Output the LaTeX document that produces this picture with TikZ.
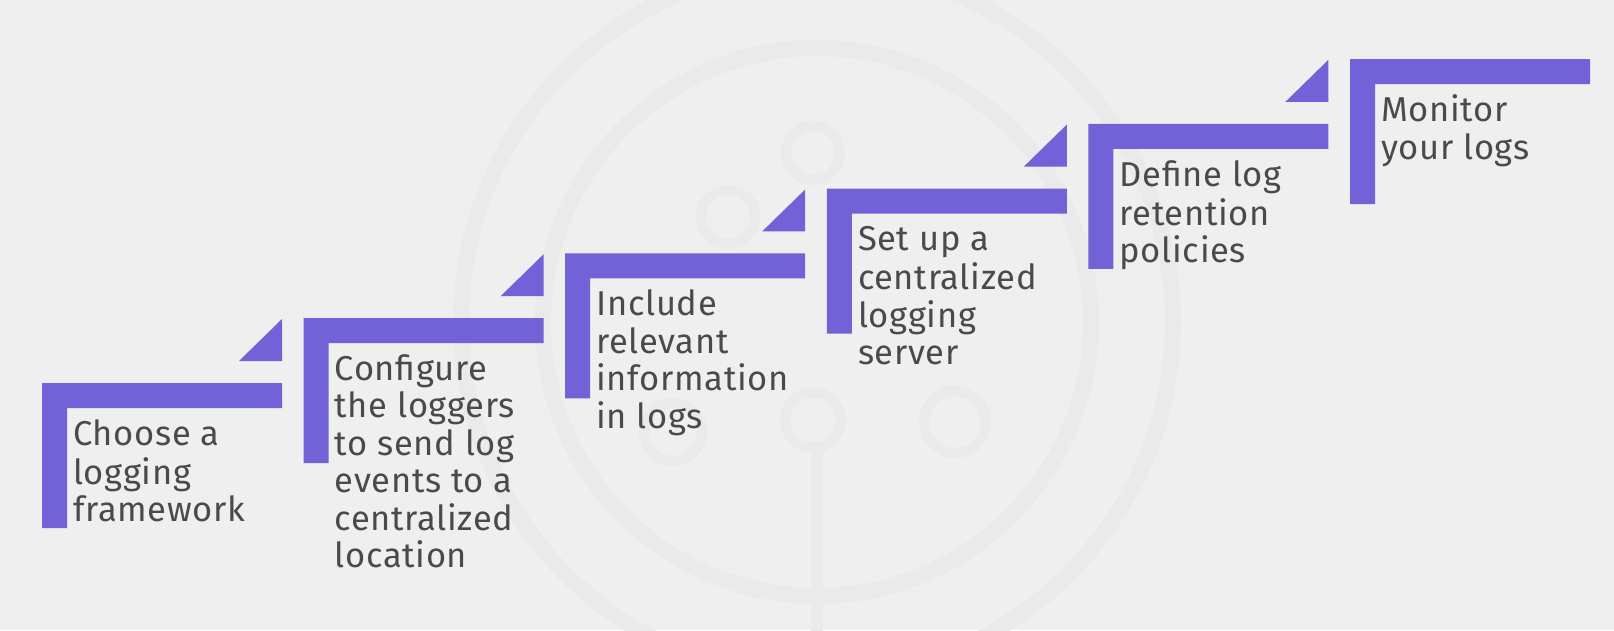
\documentclass[tikz,border=0pt]{standalone}
\usepackage{fontspec}
\setmainfont[LetterSpace=2]{Fira Sans}
\definecolor{bg}{HTML}{EFEFEF}
\definecolor{purp}{HTML}{7262D8}
\definecolor{txt}{HTML}{4A4A4A}
\definecolor{wm}{HTML}{EAEAEA}
\begin{document}
\begin{tikzpicture}[x=1pt,y=-1pt,
  stepbar/.style={fill=purp},
  steptext/.style={anchor=north west, inner sep=0pt, align=left, text=txt,
    font=\fontsize{34.5}{37.5}\selectfont},
  wmline/.style={draw=wm, line width=16pt}]
\useasboundingbox (0,0) rectangle (1614,630);
\fill[bg] (0,0) rectangle (1614,630);
\begin{scope}
\clip (0,0) rectangle (1614,630);
% faint watermark
\draw[wmline] (817,322) circle (356pt);
\draw[wmline] (817,322) circle (274pt);
\draw[wmline, line width=10pt] (813,153) circle (27pt);
\draw[wmline, line width=10pt] (728,217) circle (27pt);
\draw[wmline, line width=10pt] (813,420) circle (28pt);
\draw[wmline, line width=10pt] (955,422) circle (31pt);
\draw[wmline, line width=10pt] (673,432) circle (29pt);
\draw[wmline, line width=12pt] (817,448) -- (817,640);
\end{scope}
% steps
\foreach \i/\txtc in {0/{Choose a\\logging\\framework},
                     1/{Configure\\the loggers\\to send log\\events to a\\centralized\\location},
                     2/{Include\\relevant\\information\\in logs},
                     3/{Set up a\\centralized\\logging\\server},
                     4/{Define log\\retention\\policies},
                     5/{Monitor\\your logs}}{
  \pgfmathsetmacro{\xo}{42+261.6*\i}
  \pgfmathsetmacro{\yo}{383-64.8*\i}
  \fill[stepbar] (\xo,\yo) -- ++(240,0) -- ++(0,25) -- ++(-215,0) -- ++(0,120) -- ++(-25,0) -- cycle;
  \ifnum\i<5
    \fill[stepbar] (\xo+240,\yo-64) -- (\xo+240,\yo-22) -- (\xo+197,\yo-22) -- cycle;
  \fi
  \node[steptext] (t\i) at (\xo+31,\yo+62-26.25) {\strut\txtc};
}
\end{tikzpicture}
\end{document}
